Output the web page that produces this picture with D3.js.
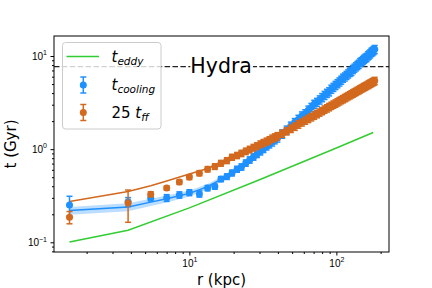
<!DOCTYPE html>
<html lang="en">
<head>
<meta charset="UTF-8">
<title>Hydra timescales</title>
<style>
html, body {
    margin: 0;
    padding: 0;
    background: #fff;
}
svg {
    display: block;
    font-family: "DejaVu Sans", sans-serif;
}
.axis path, .axis line {
    stroke: #000;
}
.axis text {
    fill: #000;
    font-size: 10px;
}
</style>
</head>
<body>
<div id="graph"></div>
<script src="https://cdn.jsdelivr.net/npm/d3@7"></script>
<script>

// radial bins (kpc)
const radius = [1.53, 3.83, 5.46, 7.01, 8.55, 10.0, 11.7, 13.3, 14.9, 16.4, 18.0, 19.5,
    21.1, 22.6, 24.2, 25.7, 27.3, 28.8, 30.4, 31.9, 33.5, 35.0, 36.6, 38.1, 39.7,
    42.8, 45.9, 49.0, 52.1, 55.2, 58.3, 61.4, 64.5, 67.6, 70.7, 73.8, 76.9, 80.0,
    83.1, 86.2, 89.3, 92.4, 95.5, 98.6, 101.7, 104.8, 107.9, 111.0, 114.1, 117.2,
    120.3, 123.4, 126.5, 129.6, 132.7, 135.8, 138.9, 142.0, 145.1, 148.2, 151.3,
    154.4, 157.5, 160.6, 163.7, 166.8, 169.9, 173.0, 176.1, 179.2, 182.3];

// cooling time (Gyr) and its error
const tCool = [0.252, 0.272, 0.298, 0.300, 0.323, 0.342, 0.331, 0.382, 0.397, 0.477, 0.508, 0.556,
    0.610, 0.645, 0.711, 0.767, 0.826, 0.883, 0.946, 1.005, 1.07, 1.13, 1.19, 1.26, 1.32,
    1.46, 1.61, 1.77, 1.94, 2.10, 2.28, 2.41, 2.64, 2.82, 3.05, 3.19, 3.39, 3.59,
    3.79, 3.99, 4.15, 4.42, 4.63, 4.85, 5.07, 5.29, 5.52, 5.80, 5.98, 6.22,
    6.45, 6.70, 6.85, 7.19, 7.44, 7.69, 7.95, 8.19, 8.55, 8.73, 8.99,
    9.27, 9.51, 9.70, 10.07, 10.3, 10.6, 11.0, 11.2, 11.5, 11.8];
const tCoolErr = [0.06, 0.03, 0.02, 0.025, 0.025, 0.025, 0.025, 0.025, 0.025, 0.03, 0.035, 0.04,
    0.045, 0.05, 0.055, 0.06, 0.065, 0.07, 0.08, 0.085, 0.09, 0.10, 0.11, 0.12, 0.13,
    0.15, 0.16, 0.18, 0.19, 0.21, 0.23, 0.24, 0.26, 0.28, 0.30, 0.32, 0.34, 0.36,
    0.38, 0.40, 0.42, 0.44, 0.46, 0.49, 0.51, 0.53, 0.55, 0.58, 0.60, 0.62,
    0.65, 0.67, 0.69, 0.72, 0.74, 0.77, 0.80, 0.82, 0.85, 0.87, 0.90,
    0.93, 0.95, 0.97, 1.01, 1.03, 1.06, 1.10, 1.12, 1.15, 1.18];

// 25 x free-fall time (Gyr) and its error
const tFF = [0.186, 0.264, 0.329, 0.382, 0.443, 0.501, 0.553, 0.610, 0.651, 0.707, 0.755, 0.820,
    0.857, 0.902, 0.95, 0.993, 1.04, 1.08, 1.13, 1.17, 1.21, 1.25, 1.30, 1.34, 1.38,
    1.47, 1.56, 1.66, 1.75, 1.85, 1.94, 2.03, 2.12, 2.21, 2.30, 2.39, 2.48, 2.57,
    2.67, 2.75, 2.84, 2.93, 3.02, 3.10, 3.19, 3.28, 3.37, 3.45, 3.54, 3.63,
    3.72, 3.80, 3.89, 3.97, 4.06, 4.14, 4.23, 4.31, 4.40, 4.49, 4.57,
    4.66, 4.73, 4.82, 4.90, 4.99, 5.07, 5.15, 5.24, 5.32, 5.41];
const tFFErr = [0.028, 0.10, 0.02, 0.02, 0.025, 0.03, 0.035, 0.04, 0.045, 0.05, 0.055, 0.06,
    0.065, 0.07, 0.075, 0.08, 0.085, 0.09, 0.095, 0.10, 0.105, 0.11, 0.115, 0.12, 0.125,
    0.13, 0.14, 0.15, 0.16, 0.17, 0.17, 0.18, 0.19, 0.20, 0.21, 0.22, 0.22, 0.23,
    0.24, 0.25, 0.26, 0.26, 0.27, 0.28, 0.29, 0.30, 0.30, 0.31, 0.32, 0.33,
    0.33, 0.34, 0.35, 0.36, 0.37, 0.37, 0.38, 0.39, 0.40, 0.40, 0.41,
    0.42, 0.43, 0.43, 0.44, 0.45, 0.46, 0.46, 0.47, 0.48, 0.49];

// model curves
const modelR = [1.53, 3.83, 5.46, 7.01, 10.0, 13.3, 19.5, 30.4, 49.0, 80.0, 120.3, 182.3];
const modelCool = [0.219, 0.239, 0.270, 0.293, 0.335, 0.395, 0.55, 0.93, 1.77, 3.55, 6.4, 11.7];
const modelCoolLo = [0.198, 0.216, 0.246, 0.268, 0.310, 0.368, 0.52, 0.89, 1.70, 3.42, 6.2, 11.3];
const modelCoolHi = [0.240, 0.262, 0.294, 0.318, 0.360, 0.422, 0.58, 0.97, 1.84, 3.68, 6.6, 12.1];
const modelFF = [0.274, 0.351, 0.405, 0.455, 0.54, 0.62, 0.81, 1.13, 1.65, 2.55, 3.70, 5.40];

// eddy turnover time
const eddyR = [1.53, 3.83, 10.0, 30.0, 100.0, 178.0];
const tEddy = [0.101, 0.135, 0.234, 0.47, 1.03, 1.51];

const hydraTime = 7.7;
const xMajor = [10, 100];
const xMinor = [2, 3, 4, 5, 6, 7, 8, 9, 20, 30, 40, 50, 60, 70, 80, 90, 200];
const yMajor = [0.1, 1, 10];
const yMinor = [0.08, 0.09, 0.2, 0.3, 0.4, 0.5, 0.6, 0.7, 0.8, 0.9, 2, 3, 4, 5, 6, 7, 8, 9];
const superscripts = {0.1: "\u22121", 1: "0", 10: "1", 100: "2"};

const blue = "#1e90ff";
const orange = "#d2691e";
const green = "#32cd32";

!(function(){
    const width = 432;
    const height = 288;
    const margin = {top: 36, left: 54, right: 43, bottom: 36};
    const chartWidth = width - margin.left - margin.right;
    const chartHeight = height - margin.top - margin.bottom;

    const svg = d3.select("#graph").append("svg")
        .attr("width", width)
        .attr("height", height);

    const xScale = d3.scaleLog().domain([1.2, 228]).range([0, chartWidth]);
    const yScale = d3.scaleLog().domain([0.0787, 16.4]).range([chartHeight, 0]);

    const chartLayer = svg.append("g")
        .attr("transform", `translate(${margin.left}, ${margin.top})`);

    // shaded band on the cooling model
    const band = d3.area()
        .x((d, i) => xScale(modelR[i]))
        .y0((d, i) => yScale(modelCoolLo[i]))
        .y1((d, i) => yScale(modelCoolHi[i]));
    chartLayer.append("path")
        .datum(modelR)
        .attr("d", band)
        .attr("fill", blue)
        .attr("fill-opacity", 0.3);

    const lineGen = (ys) => d3.line()
        .x((d, i) => xScale(modelR[i]))
        .y((d, i) => yScale(ys[i]));

    chartLayer.append("path")
        .datum(modelR)
        .attr("d", lineGen(modelCool))
        .attr("fill", "none")
        .attr("stroke", blue)
        .attr("stroke-width", 1.5);

    chartLayer.append("path")
        .datum(modelR)
        .attr("d", lineGen(modelFF))
        .attr("fill", "none")
        .attr("stroke", orange)
        .attr("stroke-width", 1.5);

    chartLayer.append("path")
        .datum(eddyR)
        .attr("d", d3.line()
            .x((d) => xScale(d))
            .y((d, i) => yScale(tEddy[i])))
        .attr("fill", "none")
        .attr("stroke", green)
        .attr("stroke-width", 1.5);

    // horizontal reference line
    chartLayer.append("line")
        .attr("x1", 0)
        .attr("x2", chartWidth)
        .attr("y1", yScale(hydraTime))
        .attr("y2", yScale(hydraTime))
        .attr("stroke", "#222")
        .attr("stroke-width", 1.3)
        .attr("stroke-dasharray", "5.5,2.4");

    function drawErrorbars(values, errs, color) {
        const g = chartLayer.append("g");
        const pts = g.selectAll("g")
            .data(radius)
            .enter().append("g")
            .attr("transform", (d) => `translate(${xScale(d)},0)`);
        pts.append("line")
            .attr("y1", (d, i) => yScale(values[i] - errs[i]))
            .attr("y2", (d, i) => yScale(values[i] + errs[i]))
            .attr("stroke", color)
            .attr("stroke-width", 1.5);
        [-1, 1].forEach((s) => {
            pts.append("line")
                .attr("x1", -3).attr("x2", 3)
                .attr("y1", (d, i) => yScale(values[i] + s * errs[i]))
                .attr("y2", (d, i) => yScale(values[i] + s * errs[i]))
                .attr("stroke", color)
                .attr("stroke-width", 1.5);
        });
        pts.append("circle")
            .attr("cy", (d, i) => yScale(values[i]))
            .attr("r", 3.5)
            .attr("fill", color);
    }

    drawErrorbars(tCool, tCoolErr, blue);
    drawErrorbars(tFF, tFFErr, orange);

    // Hydra label with white box
    const label = chartLayer.append("g");
    const labelRect = label.append("rect").attr("fill", "#fff");
    const labelText = label.append("text")
        .attr("x", xScale(10) + 1)
        .attr("y", yScale(hydraTime) + 6)
        .attr("font-size", 20.5)
        .attr("fill", "#000")
        .text("Hydra");
    const bb = labelText.node().getBBox();
    labelRect.attr("x", bb.x).attr("y", bb.y + 2)
        .attr("width", bb.width + 1).attr("height", bb.height - 4);

    // axes
    function supLabel(sel) {
        sel.selectAll("text").each(function(d) {
            const t = d3.select(this);
            t.text(null);
            t.append("tspan").text("10");
            t.append("tspan").attr("dy", -4.5).attr("font-size", 7).text(superscripts[d]);
        });
    }

    const xAxis = svg.append("g").attr("class", "axis")
        .attr("transform", `translate(${margin.left}, ${margin.top + chartHeight})`)
        .call(d3.axisBottom(xScale).tickValues(xMajor).tickSize(3.5).tickPadding(4));
    xAxis.call(supLabel);
    xAxis.select(".domain").remove();
    svg.append("g").attr("class", "axis")
        .attr("transform", `translate(${margin.left}, ${margin.top + chartHeight})`)
        .call(d3.axisBottom(xScale).tickValues(xMinor).tickSize(2).tickFormat(""))
        .select(".domain").remove();

    const yAxis = svg.append("g").attr("class", "axis")
        .attr("transform", `translate(${margin.left}, ${margin.top})`)
        .call(d3.axisLeft(yScale).tickValues(yMajor).tickSize(3.5).tickPadding(3.5));
    yAxis.call(supLabel);
    yAxis.select(".domain").remove();
    svg.append("g").attr("class", "axis")
        .attr("transform", `translate(${margin.left}, ${margin.top})`)
        .call(d3.axisLeft(yScale).tickValues(yMinor).tickSize(2).tickFormat(""))
        .select(".domain").remove();

    // frame
    svg.append("rect")
        .attr("x", margin.left).attr("y", margin.top)
        .attr("width", chartWidth).attr("height", chartHeight)
        .attr("fill", "none")
        .attr("stroke", "#000")
        .attr("stroke-width", 1);

    // axis titles
    svg.append("text")
        .attr("x", margin.left + chartWidth / 2)
        .attr("y", 285)
        .attr("text-anchor", "middle")
        .attr("font-size", 15)
        .text("r (kpc)");
    svg.append("text")
        .attr("transform", `translate(16, ${margin.top + chartHeight / 2}) rotate(-90)`)
        .attr("text-anchor", "middle")
        .attr("font-size", 15)
        .text("t (Gyr)");

    // legend
    const legend = svg.append("g").attr("transform", "translate(62.5, 42.5)");
    legend.append("rect")
        .attr("width", 98.5).attr("height", 86.5)
        .attr("rx", 3)
        .attr("fill", "#fff").attr("fill-opacity", 0.8)
        .attr("stroke", "#ccc").attr("stroke-width", 1);

    const rows = [
        {label: "eddy", prefix: "", y: 14, kind: "line", color: green},
        {label: "cooling", prefix: "", y: 42.5, kind: "err", color: blue},
        {label: "ff", prefix: "25 ", y: 70, kind: "err", color: orange}
    ];
    rows.forEach((row) => {
        if (row.kind === "line") {
            legend.append("line")
                .attr("x1", 4).attr("x2", 36.5)
                .attr("y1", row.y).attr("y2", row.y)
                .attr("stroke", row.color).attr("stroke-width", 1.5);
        } else {
            const g = legend.append("g").attr("transform", `translate(20.8, ${row.y})`);
            g.append("line").attr("y1", -8).attr("y2", 8)
                .attr("stroke", row.color).attr("stroke-width", 1.5);
            [-8, 8].forEach((yy) => g.append("line")
                .attr("x1", -3).attr("x2", 3).attr("y1", yy).attr("y2", yy)
                .attr("stroke", row.color).attr("stroke-width", 1.5));
            g.append("circle").attr("r", 3.5).attr("fill", row.color);
        }
        const txt = legend.append("text")
            .attr("x", 49)
            .attr("y", row.y + 5)
            .attr("font-size", 15);
        if (row.prefix) txt.append("tspan").text(row.prefix);
        txt.append("tspan").attr("font-style", "italic").text("t");
        txt.append("tspan").attr("font-style", "italic")
            .attr("font-size", 10.5).attr("dy", 3).text(row.label);
    });
}());

</script>
</body>
</html>
